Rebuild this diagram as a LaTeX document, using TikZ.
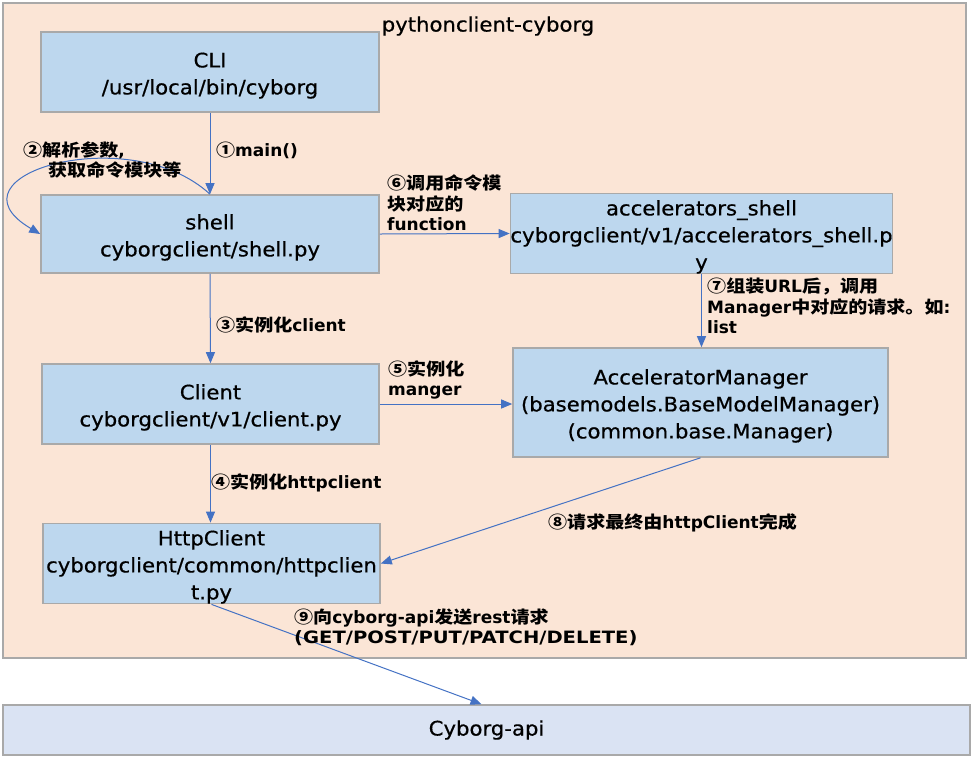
\documentclass[tikz,border=0pt]{standalone}
\usepackage{fontspec}
\setmainfont{DejaVu Sans}
\newfontfamily\boxfont{DejaVu Sans}[FakeStretch=1.06,FakeBold=0.6]
\newfontfamily\capsfont{DejaVu Sans}[FakeStretch=1.15]
\newfontfamily\zhfont{Noto Sans CJK SC}[FakeStretch=1.12]
\newcommand\zh[1]{{\zhfont #1}}
\newcommand\boxstrut{\rule{0pt}{22pt}}
\usetikzlibrary{arrows.meta}
\definecolor{peach}{HTML}{FBE5D6}
\definecolor{boxblue}{HTML}{BDD7EE}
\definecolor{apiblue}{HTML}{DAE3F3}
\definecolor{edgegray}{HTML}{A9A9A9}
\definecolor{arrowblue}{HTML}{4472C4}
\begin{document}
\begin{tikzpicture}[x=1pt,y=-1pt,
  box/.style={draw=edgegray, line width=1.6pt, fill=boxblue, inner sep=0pt, align=center,
    font=\boxfont\fontsize{20}{27}\selectfont},
  lbl/.style={inner sep=0pt, anchor=west, align=left, font=\bfseries\fontsize{17}{20.5}\selectfont},
  arr/.style={draw=arrowblue, line width=1pt, -{Triangle[length=11pt,width=9pt]}}]
\useasboundingbox (0,0) rectangle (979,756);
% container
\node[draw=edgegray, line width=1.2pt, fill=peach, minimum width=963pt, minimum height=655pt, inner sep=0pt] (cont) at (484.5,330.5) {};
\node[inner sep=0pt, font=\boxfont\fontsize{20}{24}\selectfont] (title) at (488,26) {pythonclient-cyborg};
% boxes
\node[box, minimum width=338pt, minimum height=80pt] (cli) at (210,72) {\boxstrut CLI\\/usr/local/bin/cyborg};
\node[box, minimum width=338pt, minimum height=78pt] (shell) at (210,234) {\boxstrut shell\\cyborgclient/shell.py};
\node[box, minimum width=377pt, minimum height=79pt] (acc) at (701.5,233.5) {\boxstrut accelerators\_shell\\cyborgclient/v1/accelerators\_shell.p\\y};
\node[box, minimum width=337pt, minimum height=80pt] (client) at (210.5,404) {\boxstrut Client\\cyborgclient/v1/client.py};
\node[box, minimum width=375pt, minimum height=109pt] (mgr) at (700.5,402.5) {\boxstrut AcceleratorManager\\(basemodels.BaseModelManager)\\(common.base.Manager)};
\node[box, minimum width=337pt, minimum height=79pt] (http) at (211.5,563.5) {\boxstrut HttpClient\\cyborgclient/common/httpclien\\t.py};
\node[box, fill=apiblue, minimum width=967pt, minimum height=50pt] (api) at (486.5,730) {Cyborg-api};
% connectors
\draw[arr] (cli.south) -- (shell.north);
\draw[arr] (shell.north) .. controls (130,120) and (-60,175) .. (shell.west);
\draw[arr] (shell.east) -- (acc.west);
\draw[arr] (shell.south) -- (client.north);
\draw[arr] (client.east) -- (client.east -| mgr.west);
\draw[arr] (client.south) -- (client.south |- http.north);
\draw[arr] (acc.south) -- (acc.south |- mgr.north);
\draw[arr] (mgr.south) -- (http.east);
\draw[arr] (http.south) -- ([xshift=-5pt]api.north);
% labels
\node[lbl] (l1) at (216,150) {\zh{①}main()};
\node[lbl] (l2) at (23,160) {\zh{②解析参数},\\\hspace*{25pt}\zh{获取命令模块等}};
\node[lbl] (l6) at (387,203) {\zh{⑥调用命令模}\\\zh{块对应的}\\function};
\node[lbl] (l3) at (216,325) {\zh{③实例化}client};
\node[lbl] (l5) at (388,380) {\zh{⑤实例化}\\manger};
\node[lbl] (l4) at (211,483) {\zh{④实例化}httpclient};
\node[lbl] (l7) at (707,306) {\zh{⑦组装}URL\zh{后，调用}\\Manager\zh{中对应的请求。如}:\\list};
\node[lbl] (l8) at (548,523) {\zh{⑧请求最终由}httpClient\zh{完成}};
\node[lbl, font=\bfseries\fontsize{17}{19.5}\selectfont] (l9) at (294,627.5) {\zh{⑨向}cyborg-api\zh{发送}rest\zh{请求}\\{\capsfont (GET/POST/PUT/PATCH/DELETE)}};
\end{tikzpicture}
\end{document}
